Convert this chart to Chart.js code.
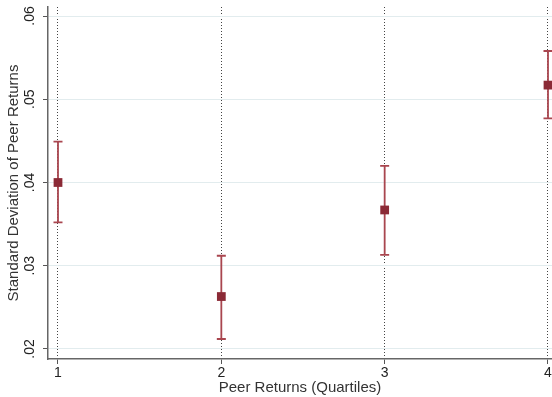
<!DOCTYPE html>
<html>
<head>
<meta charset="utf-8">
<script src="https://cdn.jsdelivr.net/npm/chart.js@4.4.1/dist/chart.umd.min.js"></script>
<style>
  html, body { margin: 0; padding: 0; background: #fff; }
  #wrap { width: 552px; height: 397px; }
</style>
</head>
<body>
<div id="wrap"><canvas id="c" width="552" height="397"></canvas></div>
<script>
// Peer-return quartiles and the standard deviation of peer returns in each
const quartiles = [1, 2, 3, 4];
const sdMean  = [0.0400, 0.0263, 0.0367, 0.0517];
const sdLower = [0.0352, 0.0212, 0.0313, 0.0477];
const sdUpper = [0.0449, 0.0312, 0.0420, 0.0558];
const yTicks = [0.02, 0.03, 0.04, 0.05, 0.06];

const markerColor = '#8b2a36';
const barColor = '#a9464f';

// Confidence bars with end caps, drawn beneath the square markers
const errorBars = {
  id: 'errorBars',
  beforeDatasetsDraw(chart) {
    const { ctx, scales: { x, y } } = chart;
    ctx.save();
    ctx.strokeStyle = barColor;
    ctx.lineWidth = 1.8;
    quartiles.forEach((q, i) => {
      const px = x.getPixelForValue(q);
      const top = y.getPixelForValue(sdUpper[i]);
      const bot = y.getPixelForValue(sdLower[i]);
      ctx.beginPath();
      ctx.moveTo(px, top); ctx.lineTo(px, bot);
      ctx.moveTo(px - 4.5, top); ctx.lineTo(px + 4.5, top);
      ctx.moveTo(px - 4.5, bot); ctx.lineTo(px + 4.5, bot);
      ctx.stroke();
    });
    ctx.restore();
  }
};

new Chart(document.getElementById('c'), {
  type: 'scatter',
  data: {
    datasets: [{
      data: quartiles.map((q, i) => ({ x: q, y: sdMean[i] })),
      pointStyle: 'rect',
      pointRadius: 6.2,
      pointHoverRadius: 6.2,
      backgroundColor: markerColor,
      borderColor: markerColor,
      borderWidth: 0,
      clip: false
    }]
  },
  options: {
    responsive: false,
    animation: false,
    layout: { autoPadding: false, padding: { top: 7, right: 0, left: 0, bottom: 0 } },
    plugins: { legend: { display: false }, tooltip: { enabled: false } },
    scales: {
      x: {
        type: 'linear',
        min: 0.9388,
        max: 4.0245,
        afterBuildTicks(s) { s.ticks = quartiles.map(v => ({ value: v })); },
        afterFit(s) { s.height = 38; s.paddingLeft = 0; s.paddingRight = 0; },
        grid: { color: '#444', lineWidth: 1, tickLength: 5, tickColor: '#555' },
        border: { color: '#666', width: 1.5, dash: [1, 2] },
        ticks: {
          color: '#222',
          font: { family: 'Liberation Sans, Arial, sans-serif', size: 14 },
          padding: 1,
          maxRotation: 0,
          callback: v => String(v)
        },
        title: {
          display: true,
          text: 'Peer Returns (Quartiles)',
          color: '#333',
          font: { family: 'Liberation Sans, Arial, sans-serif', size: 15 },
          padding: { top: 0, bottom: 0 }
        }
      },
      y: {
        type: 'linear',
        min: 0.018795,
        max: 0.061084,
        afterBuildTicks(s) { s.ticks = yTicks.map(v => ({ value: v })); },
        afterFit(s) { s.width = 48; s.paddingTop = 0; s.paddingBottom = 0; },
        grid: { color: '#e2ecee', lineWidth: 1, tickLength: 5, tickColor: '#555' },
        border: { color: '#666', width: 1.5 },
        ticks: {
          color: '#222',
          font: { family: 'Liberation Sans, Arial, sans-serif', size: 14 },
          minRotation: 90,
          maxRotation: 90,
          crossAlign: 'center',
          padding: 3,
          callback: v => v.toFixed(2).replace(/^0/, '')
        },
        title: {
          display: true,
          text: 'Standard Deviation of Peer Returns',
          color: '#333',
          font: { family: 'Liberation Sans, Arial, sans-serif', size: 15 },
          padding: { top: 5, bottom: 0 }
        }
      }
    }
  },
  plugins: [errorBars]
});
</script>
</body>
</html>
